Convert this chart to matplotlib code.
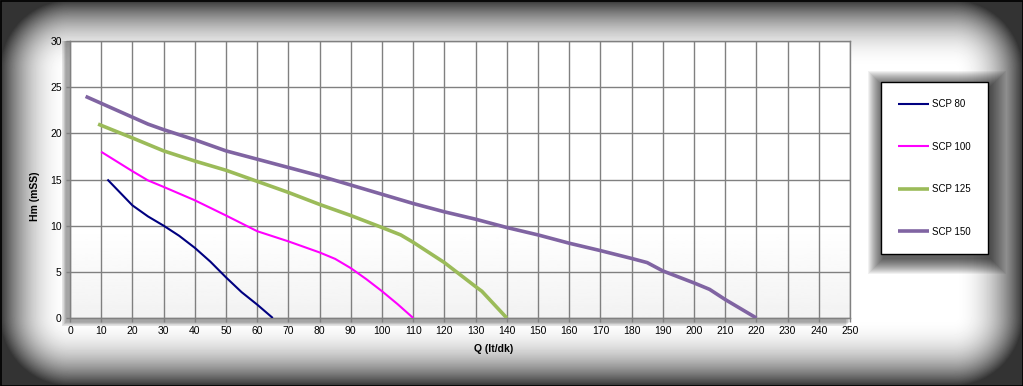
import matplotlib
matplotlib.use("Agg")
import matplotlib.pyplot as plt
import numpy as np
from matplotlib.patches import Rectangle

plt.rcParams["font.family"] = ["Liberation Sans", "DejaVu Sans"]

# pump curves: Q (lt/dk) -> Hm (mSS)
scp80_q = [12, 20, 25, 30, 35, 40, 45, 50, 55, 60, 65]
scp80_h = [15, 12.2, 11.0, 10.0, 8.9, 7.6, 6.1, 4.4, 2.8, 1.45, 0]

scp100_q = [10, 20, 25, 30, 40, 50, 60, 70, 80, 85, 90, 95, 100, 105, 110]
scp100_h = [18, 15.9, 14.9, 14.2, 12.75, 11.1, 9.4, 8.3, 7.1, 6.4, 5.4, 4.2, 2.9, 1.5, 0]

scp125_q = [9, 20, 30, 40, 50, 60, 70, 80, 90, 100, 106, 110, 120, 130, 132, 140]
scp125_h = [21, 19.5, 18.1, 17.0, 16.0, 14.8, 13.6, 12.3, 11.1, 9.8, 9.0, 8.2, 6.0, 3.4, 2.9, 0]

scp150_q = [5, 15, 25, 30, 40, 50, 60, 70, 80, 90, 100, 110, 120, 130, 140,
            150, 160, 170, 180, 185, 190, 200, 205, 210, 220]
scp150_h = [24, 22.5, 21.0, 20.4, 19.3, 18.1, 17.2, 16.3, 15.4, 14.4, 13.4, 12.4,
            11.5, 10.7, 9.8, 9.0, 8.1, 7.3, 6.45, 6.0, 5.1, 3.8, 3.1, 2.0, 0]

series = [
    ("SCP 80", scp80_q, scp80_h, "#000080", 1.5),
    ("SCP 100", scp100_q, scp100_h, "#FF00FF", 1.5),
    ("SCP 125", scp125_q, scp125_h, "#9BBB59", 2.6),
    ("SCP 150", scp150_q, scp150_h, "#8064A2", 2.6),
]

W, H = 1023, 386
fig = plt.figure(figsize=(W / 100, H / 100), dpi=100)

# vignette background
yy, xx = np.mgrid[0:H, 0:W] + 0.5
R = 70.0
dx = np.maximum.reduce([R - xx, np.zeros_like(xx), xx - (W - R)])
dy = np.maximum.reduce([R - yy, np.zeros_like(yy), yy - (H - R)])
d = np.clip(R - np.hypot(dx, dy), 0, R) / R
bright = 0.2 + 0.8 * (1 - (1 - d) ** 2.2)
bg = fig.add_axes([0, 0, 1, 1], zorder=-10)
bg.imshow(bright, cmap="gray", vmin=0, vmax=1, aspect="auto",
          extent=(0, W, H, 0), interpolation="bilinear")
bg.set_xlim(0, W)
bg.set_ylim(H, 0)
bg.axis("off")
bg.add_patch(Rectangle((0.5, 0.5), W - 1, H - 1, fill=False, ec="black", lw=1.2))

# soft shadows behind plot area and legend box
for i in range(8):
    bg.add_patch(Rectangle((66 - i * 0.6, 41), 784, 281 + i * 0.6, fc="black",
                           ec="none", alpha=0.05))
lx0, ly0, lw_, lh_ = 881, 82, 106, 171
for i in range(16):
    g = 16 - i
    bg.add_patch(Rectangle((lx0 - g + 3, ly0 - g + 5), lw_ + 2 * g, lh_ + 2 * g,
                           fc="black", ec="none", alpha=0.055))

ax = fig.add_axes([70 / W, 1 - 318 / H, 780 / W, 277 / H])
grad = np.linspace(0.95, 1.0, 40).reshape(-1, 1)
grad = np.minimum(1.0, np.vstack([grad, np.ones((80, 1))]))
ax.imshow(grad, cmap="gray", vmin=0, vmax=1, aspect="auto",
          extent=(0, 250, 30, 0), zorder=0)

for name, q, h, color, lw in series:
    ax.plot(q, h, color=color, lw=lw, label=name, zorder=3,
            solid_capstyle="butt", solid_joinstyle="round")

ax.set_xlim(0, 250)
ax.set_ylim(0, 30)
ax.set_xticks(np.arange(0, 251, 10))
ax.set_yticks(np.arange(0, 31, 5))
ax.grid(True, color="#808080", lw=1.0, zorder=1)
ax.set_axisbelow(True)
for s in ax.spines.values():
    s.set_color("#808080")
    s.set_linewidth(1.0)
ax.tick_params(axis="both", colors="#808080", labelcolor="black",
               labelsize=7.5, length=3, width=1, pad=3)

fig.text(494 / W, 1 - 349 / H, "Q (lt/dk)", ha="center", va="center",
         fontsize=7.5, fontweight="bold")
fig.text(35 / W, 1 - 196 / H, "Hm (mSS)", ha="center", va="center",
         rotation=90, fontsize=7.5, fontweight="bold")

leg = fig.legend(loc="upper left", bbox_to_anchor=(lx0 / W, 1 - ly0 / H),
                 fontsize=7, frameon=True, fancybox=False, handlelength=3.2,
                 handletextpad=0.3, labelspacing=3.35, borderpad=1.75,
                 borderaxespad=0)
leg.get_frame().set_edgecolor("black")
leg.get_frame().set_linewidth(1.0)
leg.get_frame().set_alpha(1)

fig.savefig("out.png", dpi=100)
